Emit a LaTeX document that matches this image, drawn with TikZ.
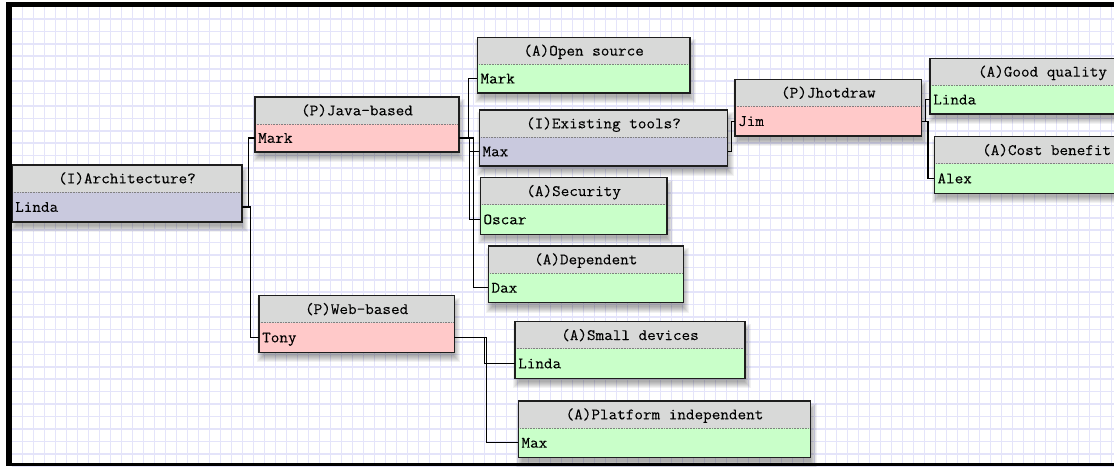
\documentclass[tikz,border=0pt]{standalone}
\usepackage{fontspec}
\newfontfamily\monof{Latin Modern Mono}[FakeStretch=1.05,FakeBold=0.15]
\usetikzlibrary{calc}
\definecolor{hdrgray}{RGB}{216,217,216}
\definecolor{bodyI}{RGB}{201,201,222}
\definecolor{bodyP}{RGB}{255,201,201}
\definecolor{bodyA}{RGB}{201,255,201}
\definecolor{gridc}{RGB}{228,228,250}
\definecolor{edgec}{RGB}{30,30,30}
\tikzset{
  hdrbox/.style={inner sep=0pt, outer sep=0pt, fill=hdrgray, anchor=north west, minimum height=27pt},
  bodybox/.style={inner sep=0pt, outer sep=0pt, anchor=north west},
  boxedge/.style={draw=edgec, line width=1.4pt},
  sepline/.style={draw=gray, line width=0.7pt, dash pattern=on 0.8pt off 0.8pt},
  hdrtext/.style={font={\monof\fontsize{15.9pt}{18pt}\selectfont}, inner sep=0pt, anchor=base, yshift=-4.8pt},
  bodytext/.style={font={\monof\fontsize{15.9pt}{18pt}\selectfont}, inner sep=0pt, anchor=base west, xshift=3pt, yshift=-4.8pt},
  link/.style={draw=black, line width=1.2pt},
  shadowlayer/.style={fill=black, opacity=0.05},
  gridline/.style={draw=gridc, line width=1.6pt},
}
\newcommand{\ibisbox}[8]{%
  \foreach \shd in {-2,...,4}{\fill[shadowlayer] ({#2+2-\shd},{#3+6-\shd}) rectangle ({#4+2+\shd},{#5+6+\shd});}
  \node[hdrbox, minimum width={(#4)-(#2)}] (#1-h) at (#2,#3) {};
  \node[bodybox, fill=#8, minimum width={(#4)-(#2)}, minimum height={(#5)-(#3)-27}] (#1) at (#1-h.south west) {};
  \draw[sepline] (#1-h.south west) -- (#1-h.south east);
  \draw[boxedge] (#1-h.north west) rectangle (#1.south east);
  \node[hdrtext] at (#1-h.center) {#6};
  \node[bodytext] at (#1.west) {#7};
}
\newcommand{\linkto}[2]{%
  \draw[link] (#1.east) -| ($(#1.east)!.5!(#2.west)$) |- (#2.west);
}
\begin{document}
\begin{tikzpicture}[x=1pt,y=-1pt]
\useasboundingbox (0,0) rectangle (1114,466);
\begin{scope}
\clip (0,0) rectangle (1114,466);
\fill[white] (0,0) rectangle (1114,466);
% grid
\foreach \gx in {0,...,100}{\draw[gridline] ({11.3+11*\gx},6) -- ({11.3+11*\gx},463);}
\foreach \gy in {0,...,37}{\draw[gridline] (12,{6.6+12.42*\gy}) -- (1114,{6.6+12.42*\gy});}
% boxes
\ibisbox{arch}{12}{165}{242}{222}{(I)Architecture?}{Linda}{bodyI}
\ibisbox{java}{255}{97}{459}{152}{(P)Java-based}{Mark}{bodyP}
\ibisbox{opensrc}{477.3}{37.3}{690}{93}{(A)Open source}{Mark}{bodyA}
\ibisbox{exist}{479.3}{110}{727.7}{166}{(I)Existing tools?}{Max}{bodyI}
\ibisbox{secur}{480.3}{177.7}{667}{234.3}{(A)Security}{Oscar}{bodyA}
\ibisbox{depend}{488.3}{246}{683.3}{302.7}{(A)Dependent}{Dax}{bodyA}
\ibisbox{jhot}{735}{79.3}{921.7}{136}{(P)Jhotdraw}{Jim}{bodyP}
\ibisbox{goodq}{930}{58.3}{1155}{114}{(A)Good quality}{Linda}{bodyA}
\ibisbox{costb}{934.3}{136.7}{1159}{193.3}{(A)Cost benefit}{Alex}{bodyA}
\ibisbox{web}{259}{295.7}{454.3}{352.3}{(P)Web-based}{Tony}{bodyP}
\ibisbox{small}{515}{321.7}{745}{378.3}{(A)Small devices}{Linda}{bodyA}
\ibisbox{platf}{518.3}{401}{810.7}{457.7}{(A)Platform independent}{Max}{bodyA}
% connectors
\linkto{arch}{java}
\linkto{arch}{web}
\linkto{java}{opensrc}
\linkto{java}{exist}
\linkto{java}{secur}
\linkto{java}{depend}
\linkto{exist}{jhot}
\linkto{jhot}{goodq}
\linkto{jhot}{costb}
\linkto{web}{small}
\linkto{web}{platf}
% frame
\fill[black] (6.3,2) rectangle (12,466);
\fill[black] (6.3,2) rectangle (1114,6.8);
\fill[black] (6.3,462.7) rectangle (1114,466);
\end{scope}
\end{tikzpicture}
\end{document}
